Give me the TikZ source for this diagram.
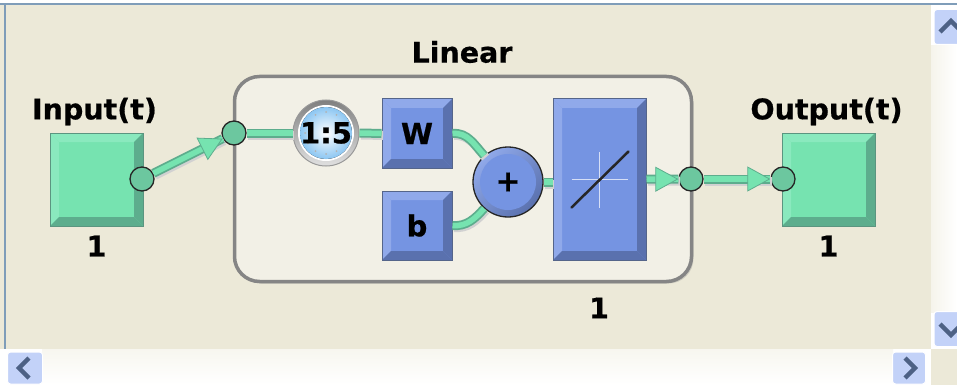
\documentclass[tikz,border=0pt]{standalone}
\usepackage{fontspec}
\setmainfont{DejaVu Sans}[BoldFeatures={FakeBold=0.6}]
\usetikzlibrary{positioning,arrows.meta,shadows}

\definecolor{paneBg}{HTML}{ECE9D8}
\definecolor{frameBlue}{HTML}{7F9DB9}
\definecolor{innerBg}{HTML}{F2F0E6}
\definecolor{greenFill}{HTML}{76E3B0}
\definecolor{greenLight}{HTML}{8AE9BE}
\definecolor{greenDark}{HTML}{5DAD8D}
\definecolor{greenEdge}{HTML}{5B9580}
\definecolor{blueFill}{HTML}{7594E2}
\definecolor{blueLight}{HTML}{90A9EA}
\definecolor{blueDark}{HTML}{5A71AE}
\definecolor{blueEdge}{HTML}{55658A}
\definecolor{portFill}{HTML}{6CC79F}
\definecolor{btnFill}{HTML}{C3D2F8}
\definecolor{btnArrow}{HTML}{4D6185}
\definecolor{clockBlue}{HTML}{8CC6F2}

\def\ppbb{path picture bounding box}
\tikzset{
    bevel/.style n args = {2}{path picture = {
        \fill[#1] (\ppbb.north west) -- (\ppbb.north east) -- ([shift={(-9,9)}]\ppbb.north east) -- ([shift={(9,9)}]\ppbb.north west) -- cycle;
        \fill[#1] (\ppbb.north west) -- (\ppbb.south west) -- ([shift={(9,-9)}]\ppbb.south west) -- ([shift={(9,9)}]\ppbb.north west) -- cycle;
        \fill[#2] (\ppbb.south east) -- (\ppbb.south west) -- ([shift={(9,-9)}]\ppbb.south west) -- ([shift={(-9,-9)}]\ppbb.south east) -- cycle;
        \fill[#2] (\ppbb.south east) -- (\ppbb.north east) -- ([shift={(-9,9)}]\ppbb.north east) -- ([shift={(-9,-9)}]\ppbb.south east) -- cycle;
    }},
    iobox/.style = {draw=greenEdge, line width=1pt, fill=greenFill, minimum size=93pt, inner sep=0pt, bevel={greenLight}{greenDark}},
    weightbox/.style = {draw=blueEdge, line width=1pt, fill=blueFill, minimum width=70pt, minimum height=69pt, inner sep=0pt, bevel={blueLight}{blueDark}, font=\fontsize{29}{30}\selectfont\bfseries},
    port/.style = {draw=black!85, line width=1.3pt, circle, fill=portFill, minimum size=24pt, inner sep=0pt},
    wire/.style = {preaction={draw=black!18, line width=9pt, transform canvas={shift={(1.5,2)}}}, preaction={draw=greenDark, line width=9pt}, draw=greenFill, line width=5.5pt},
    head/.style = {draw=greenFill, line width=.8pt, -{Triangle[length=23pt,width=25pt,color=greenDark,fill=greenFill]}},
    dimtext/.style = {font=\fontsize{28.5}{30}\selectfont\bfseries, inner sep=0pt},
    scrollbtn/.style = {draw=white, line width=1pt, fill=btnFill, rounded corners=3pt, inner sep=0pt},
    chevron/.style = {draw=btnArrow, line width=4.5pt},
}

\begin{document}
\begin{tikzpicture}[x=1pt, y=-1pt, node distance={9pt}]
    \useasboundingbox (0,0) rectangle (957,385);
    % window
    \fill[white] (0,0) rectangle (957,385);
    \fill[paneBg] (0,5) rectangle (931,349);
    \fill[paneBg] (931,349) rectangle (957,385);
    \shade[left color=paneBg!50!white, right color=white] (931,46) rectangle (957,312);
    \shade[top color=paneBg!40!white, bottom color=white] (42,349) rectangle (893,385);
    \fill[frameBlue] (0,3) rectangle (957,5);
    \fill[frameBlue] (4,3) rectangle (6,349);

    % scroll buttons
    \node[scrollbtn, minimum width=26pt, minimum height=35pt] (up) at (947,27) {};
    \node[scrollbtn, minimum width=26pt, minimum height=35pt] (down) at (947,329) {};
    \node[scrollbtn, minimum width=35pt, minimum height=32pt] (left) at (25,368) {};
    \node[scrollbtn, minimum width=33pt, minimum height=32pt] (right) at (909,368) {};
    \draw[chevron] ([shift={(-7,5)}]up.center) -- ([shift={(4,-6)}]up.center) -- ([shift={(15,5)}]up.center);
    \draw[chevron] ([shift={(-7,-5)}]down.center) -- ([shift={(4,6)}]down.center) -- ([shift={(15,-5)}]down.center);
    \draw[chevron] ([shift={(4,-10)}]left.center) -- ([shift={(-6,0)}]left.center) -- ([shift={(4,10)}]left.center);
    \draw[chevron] ([shift={(-4,-10)}]right.center) -- ([shift={(6,0)}]right.center) -- ([shift={(-4,10)}]right.center);

    % linear layer
    \node[draw=black!48, line width=3.5pt, fill=innerBg, rounded corners=25pt, minimum width=457pt, minimum height=205pt, inner sep=0pt, drop shadow={shadow xshift=2pt, shadow yshift=-2pt, opacity=.3}] (linear) at (463,179) {};
    \node[dimtext] (lineartitle) at (462,52) {Linear};
    \node[dimtext] (lineardim) at (599,308) {1};

    % input and output
    \node[iobox] (inbox) at (96.5,179.5) {};
    \node[iobox] (outbox) at (828.5,179.5) {};
    \node[dimtext, above=7pt of inbox, xshift=-2pt] (intitle) {Input(t)};
    \node[dimtext, above=7pt of outbox, xshift=-2pt] (outtitle) {Output(t)};
    \node[dimtext, below=of inbox] (indim) {1};
    \node[dimtext, below=of outbox] (outdim) {1};

    % blocks
    \node[circle, minimum size=66pt, inner sep=0pt, draw=black!40, line width=1pt, top color=black!50, bottom color=black!12] (delay) at (326,133) {};
    \fill[white] (delay.center) circle (28pt);
    \fill[inner color=white, outer color=clockBlue] (delay.center) circle (26pt);
    \foreach \ang in {0,30,...,330}
        \fill[black!30] (delay.center) ++(\ang:21pt) circle (1pt);
    \node[font=\fontsize{29}{30}\selectfont\bfseries, inner sep=0pt] (delaytext) at (delay.center) {1:5};
    \node[weightbox] (w) at (417,133.5) {W};
    \node[weightbox] (b) at (417,225.5) {b};
    \node[circle, minimum size=70pt, inner sep=0pt, draw=black!85, line width=1.3pt, top color=blueLight, bottom color=blueDark, shading angle=45] (sum) at (508,182) {};
    \fill[blueFill] (sum.center) circle (28pt);
    \node[font=\fontsize{30}{30}\selectfont\bfseries, inner sep=0pt] (plus) at (sum.center) {+};
    \node[draw=blueEdge, line width=1pt, fill=blueFill, minimum width=93pt, minimum height=161pt, inner sep=0pt, bevel={blueLight}{blueDark}] (purelin) at (599.5,179.5) {};
    \draw[white!70!blueFill, line width=1.3pt] ([xshift=-28pt]purelin.center) -- ([xshift=28pt]purelin.center);
    \draw[white!70!blueFill, line width=1.3pt] ([yshift=-28pt]purelin.center) -- ([yshift=28pt]purelin.center);
    \draw[black!85, line width=2.5pt, line cap=round] ([shift={(-28,28)}]purelin.center) -- ([shift={(29,-28)}]purelin.center);

    % ports
    \node[port] (inport) at (142,179) {};
    \node[port] (linin) at (234,133) {};
    \node[port] (linout) at (691,179) {};
    \node[port] (outport) at (783,179) {};

    % wires
    \draw[wire] (inport) -- (linin);
    \draw[head] (inport) -- (linin);
    \draw[wire] (linin) -- (delay);
    \draw[wire] (delay) -- (w);
    \draw[wire] (w.east) to[out=5, in=132] (sum);
    \draw[wire] (b.east) to[out=-5, in=-132] (sum);
    \draw[wire] (sum) -- (sum -| purelin.west);
    \draw[wire] (purelin) -- (linout);
    \draw[head] (purelin) -- (linout);
    \draw[wire] (linout) -- (outport);
    \draw[head] (linout) -- (outport);
\end{tikzpicture}
\end{document}
